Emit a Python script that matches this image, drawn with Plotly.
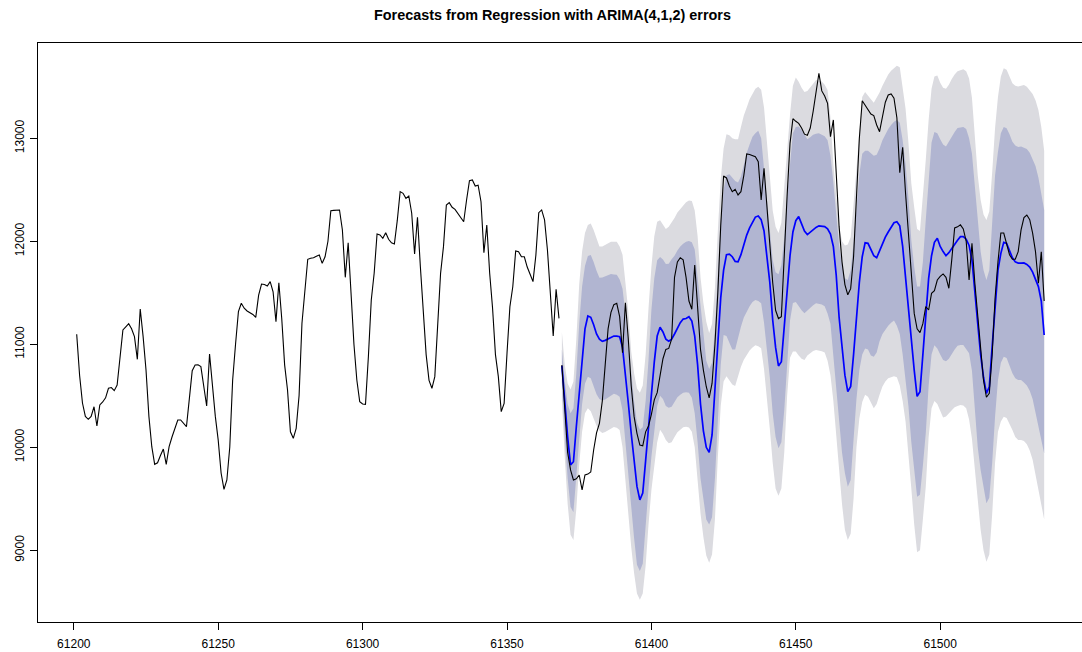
import plotly.graph_objects as go

# ---------------- data ----------------
hist_start = 61201
fc_start = 61369

hist = [
    11097, 10700, 10430, 10300, 10272, 10300, 10394, 10207, 10411, 10440,
    10480, 10573, 10580, 10550, 10605, 10850, 11139, 11170, 11200, 11150,
    11074, 10854, 11343, 11074, 10750, 10300, 10006, 9835, 9850, 9920,
    9983, 9835, 10006, 10100, 10180, 10265, 10265, 10230, 10200, 10470,
    10744, 10799, 10800, 10783, 10600, 10401, 10906, 10600, 10300, 10070,
    9750, 9592, 9683, 10000, 10653, 11000, 11317, 11398, 11350, 11323,
    11307, 11290, 11262, 11478, 11585, 11580, 11566, 11608, 11510, 11220,
    11598, 11250, 10800, 10556, 10151, 10087, 10184, 10500, 11204, 11500,
    11825, 11835, 11840, 11855, 11867, 11786, 11850, 12000, 12297, 12300,
    12305, 12304, 12110, 11650, 11986, 11450, 11000, 10653, 10443, 10420,
    10417, 10880, 11430, 11689, 12071, 12061, 12029, 12083, 12020, 11986,
    11974, 12200, 12482, 12466, 12417, 12440, 12272, 11877, 12233, 11753,
    11300, 10900, 10650, 10573, 10686, 11171, 11689, 11948, 12352, 12375,
    12330, 12310, 12270, 12240, 12190, 12401, 12588, 12595, 12537, 12545,
    12384, 11889, 12158, 11689, 11350, 10900, 10686, 10346, 10427, 10913,
    11365, 11559, 11906, 11899, 11850, 11850, 11750, 11680, 11608, 11867,
    12278, 12304, 12207, 11916, 11495, 11081, 11534, 11252,
]

actual = [
    10799, 10330, 9950, 9780, 9683, 9695, 9731, 9586, 9731, 9740,
    9760, 9974, 10140, 10233, 10450, 10800, 11150, 11310, 11385, 11398,
    11268, 10918, 11404, 11050, 10600, 10300, 10136, 10022, 10015, 10150,
    10207, 10320, 10460, 10530, 10710, 10860, 10950, 10960, 11050, 11650,
    11800, 11840, 11820, 11650, 11420, 11340, 11770, 11333, 10950, 10750,
    10588, 10480, 10620, 11000,
    11500, 12150, 12634, 12615, 12537, 12482, 12505, 12450,
    12482, 12640, 12848, 12842, 12835, 12821, 12773, 12401, 12709, 12330,
    11990, 11600, 11330, 11250, 11268, 11900, 12450, 12951, 13190, 13165,
    13145, 13100, 13040, 13030, 13100, 13260, 13453, 13631, 13460, 13411,
    13340, 13016, 13178, 12700, 12142, 11800, 11580, 11480, 11540, 11850,
    12400, 13000, 13365, 13320, 13275, 13236, 13220, 13129, 13064, 13194,
    13350, 13420, 13430, 13390, 13200, 12666, 12913, 12466, 12050, 11650,
    11300, 11150, 11113, 11200, 11365, 11333, 11495, 11520, 11624,
    11660, 11683, 11650, 11544, 11820, 12130, 12140, 12160, 12120, 12000,
    11624, 11980, 11592, 11280, 10950, 10650, 10486, 10524, 10900, 11450,
    11800, 12080, 12080, 11960, 11870, 11825, 11825, 11900, 12110, 12230,
    12255, 12210, 12080, 11900, 11592, 11899, 11420,
]

fc_mean = [
    10790, 10420, 10100, 9830, 9860, 10200, 10530, 10880, 11150, 11275,
    11262, 11190, 11100, 11050, 11028, 11038, 11050, 11065, 11080, 11080,
    11074, 10970, 10730, 10430, 10136, 9850, 9620, 9490, 9555, 9870,
    10200, 10524, 10830, 11080, 11165, 11120, 11050, 11030, 11050, 11100,
    11160, 11210, 11245,
    11250, 11268, 11225, 11080, 10800, 10420, 10160, 10000, 9950, 10120,
    10600, 11000, 11450, 11720, 11870, 11875, 11850, 11805, 11800, 11870,
    11975, 12060, 12130, 12180,
    12235, 12246, 12210, 12100, 11850, 11600, 11236, 10970, 10790, 10830,
    11171, 11560, 11860, 12090, 12200, 12240, 12160, 12100, 12065, 12090,
    12115, 12135, 12150, 12148,
    12142, 12120, 12070, 11950, 11670, 11260, 10960, 10700, 10540, 10590,
    10900, 11260, 11600, 11850, 11985, 11980, 11920, 11860, 11840, 11910,
    11980, 12040, 12090, 12142, 12180,
    12190, 12150, 11950, 11640, 11310, 11020, 10750, 10495, 10540, 10900,
    11250, 11640, 11860, 11990, 12030, 11950, 11900, 11860, 11890, 11930,
    11980, 12010, 12045, 12045, 12020, 11960, 11818, 11540, 11200, 10900,
    10680, 10524, 10588, 10980, 11400, 11720, 11883, 11990, 11980, 11910,
    11840, 11800, 11788, 11788, 11790, 11775, 11750, 11700, 11620, 11560,
    11420, 11090,
]

hi95 = [
    11120, 10800, 10620, 10560, 10640, 11050, 11580, 11900, 12080, 12158,
    12172, 12110, 12030, 11950, 11950, 11966, 11980, 11995, 11996, 11996,
    11950, 11870, 11600, 11320, 10930, 10720, 10570, 10530, 10600, 10900,
    11350, 11753, 12050, 12190, 12205, 12165, 12120, 12140, 12180, 12225,
    12280, 12315, 12350, 12380, 12395, 12390, 12300, 12050, 11650, 11400,
    11220, 11110, 11200, 11550, 12100, 12600, 12900, 13040, 13030, 13000,
    12990, 12990, 13110, 13220, 13300, 13380, 13430, 13480, 13500, 13470,
    13300, 12950, 12560, 12300, 12140, 12080, 12180, 12500, 12880, 13230,
    13510, 13590, 13550, 13490, 13450, 13460, 13500, 13530, 13566, 13560,
    13552, 13520, 13469, 13200, 12750, 12440, 12150, 12000, 11960, 11970,
    12040, 12360, 12720, 13080, 13400, 13450, 13420, 13380, 13345, 13390,
    13445, 13510, 13570, 13620, 13655, 13680, 13705, 13690, 13500, 13290,
    12960, 12560, 12330, 12120, 12100, 12420, 12789, 13180, 13480, 13600,
    13610, 13540, 13490, 13480, 13520, 13575, 13620, 13650, 13660, 13670,
    13650, 13580, 13390, 13030, 12640, 12400, 12260, 12207, 12290, 12670,
    13100, 13400, 13600, 13680, 13665, 13600, 13534, 13510, 13503, 13510,
    13518, 13500, 13470, 13430, 13370, 13275, 13110, 12880,
]

hi80 = [
    10950, 10640, 10420, 10330, 10380, 10720, 11200, 11560, 11760, 11857,
    11866, 11800, 11715, 11645, 11648, 11658, 11670, 11682, 11678, 11675,
    11630, 11540, 11300, 11010, 10686, 10450, 10240, 10170, 10195, 10450,
    10850, 11333, 11640, 11815, 11848, 11822, 11780, 11782, 11825, 11860,
    11910, 11950, 11975, 11995, 12004, 11990, 11920, 11650, 11320, 11060,
    10840, 10760, 10820, 11150, 11700, 12200, 12500, 12640, 12650, 12620,
    12585, 12570, 12630, 12740, 12860, 12940, 13016, 13050, 13074, 13000,
    12700, 12380, 12050, 11818, 11700, 11680, 11770, 12040, 12440, 12790,
    13050, 13110, 13115, 13080, 13030, 12990, 13010, 13035, 13045, 13048,
    13035, 13020, 12980, 12830, 12570, 12270, 11960, 11780, 11640, 11624,
    11720, 11990, 12320, 12650, 12850, 12880, 12880, 12850, 12830, 12840,
    12900, 12980, 13040, 13090, 13130, 13160, 13178, 13150, 12980, 12750,
    12420, 12010, 11750, 11560, 11560, 11800, 12207, 12620, 12960, 13060,
    13050, 12990, 12940, 12920, 12970, 13020, 13060, 13100, 13105, 13110,
    13090, 13000, 12850, 12530, 12150, 11900, 11720, 11624, 11720, 12140,
    12640, 12870, 13050, 13110, 13097, 13040, 12967, 12930, 12915, 12920,
    12910, 12895, 12860, 12800, 12730, 12620, 12466, 12304,
]

lo80 = [
    10630, 10100, 9700, 9420, 9370, 9700, 10080, 10420, 10620, 10686,
    10670, 10600, 10515, 10470, 10455, 10465, 10480, 10500, 10520, 10510,
    10490, 10360, 10100, 9780, 9423, 9120, 8860, 8800, 8870, 9200,
    9600, 9909, 10180, 10400, 10500, 10470, 10400, 10385, 10393, 10440,
    10485, 10510, 10530, 10535, 10530, 10480, 10330, 10050, 9700, 9480,
    9300, 9250, 9320, 9700, 10250, 10800, 11090, 11080, 11020, 10950,
    10950, 11050, 11171, 11260, 11320, 11370, 11410, 11430, 11420, 11398,
    11210, 10950, 10680, 10330, 10100, 9990, 10050, 10360, 10800, 11230,
    11400, 11410, 11365, 11330, 11301, 11330, 11355, 11380, 11398, 11393,
    11387, 11370, 11300, 11200, 10950, 10560, 10280, 9950, 9750, 9618,
    9683, 10050, 10470, 10750, 10900, 10960, 10950, 10890, 10880, 10920,
    11030, 11100, 11140, 11180, 11210, 11230, 11180, 11100, 10900, 10660,
    10400, 10050, 9760, 9520, 9540, 9820, 10136, 10600, 10900, 10990,
    10960, 10900, 10848, 10835, 10860, 10900, 10950, 10985, 10993, 10993,
    10960, 10913, 10740, 10380, 10000, 9780, 9600, 9456, 9510, 9850,
    10300, 10650, 10820, 10880, 10866, 10800, 10718, 10670, 10653, 10653,
    10630, 10600, 10550, 10470, 10360, 10220, 10080, 9940,
]

lo95 = [
    10460, 9900, 9450, 9150, 9100, 9400, 9830, 10150, 10330, 10379,
    10350, 10280, 10210, 10160, 10140, 10148, 10160, 10180, 10198, 10190,
    10168, 10000, 9700, 9380, 9035, 8780, 8580, 8520, 8580, 8850,
    9250, 9586, 9830, 10050, 10170, 10130, 10070, 10040, 10050, 10100,
    10145, 10170, 10195, 10200, 10192, 10150, 10000, 9700, 9360, 9130,
    8950, 8880, 8960, 9300, 9900, 10400, 10640, 10690, 10650, 10610,
    10595, 10680, 10783, 10850, 10900, 10940, 10970, 10990, 10980, 10961,
    10760, 10500, 10180, 9850, 9600, 9530, 9600, 9950, 10500, 10870,
    10930, 10930, 10890, 10860, 10848, 10890, 10915, 10935, 10945, 10940,
    10932, 10920, 10840, 10700, 10450, 10120, 9750, 9450, 9200, 9100,
    9160, 9500, 10000, 10280, 10440, 10510, 10490, 10430, 10380, 10420,
    10510, 10590, 10640, 10670, 10680, 10690, 10680, 10600, 10450, 10250,
    9900, 9600, 9250, 8980, 9000, 9300, 9618, 10100, 10380, 10450,
    10420, 10360, 10290, 10300, 10330, 10360, 10390, 10400, 10410, 10405,
    10380, 10270, 10080, 9750, 9480, 9200, 9000, 8890, 8960, 9350,
    9850, 10150, 10250, 10297, 10285, 10220, 10168, 10100, 10071, 10071,
    10060, 10030, 9970, 9880, 9760, 9610, 9450, 9300,
]

x_ticks = [61200, 61250, 61300, 61350, 61400, 61450, 61500]
y_ticks = [9000, 10000, 11000, 12000, 13000]
title = "Forecasts from Regression with ARIMA(4,1,2) errors"

for name, arr, n in [("hist", hist, 168), ("actual", actual, 168), ("fc_mean", fc_mean, 168),
                     ("hi95", hi95, 168), ("hi80", hi80, 168), ("lo80", lo80, 168), ("lo95", lo95, 168)]:
    assert len(arr) == n, (name, len(arr))

t_hist = list(range(hist_start, hist_start + len(hist)))
t_fc = list(range(fc_start, fc_start + len(fc_mean)))

# ---------------- figure ----------------
FONT = "Liberation Sans, Arial, Helvetica, sans-serif"
W, H = 1082, 652
ML, MR, MT, MB = 38, 0, 43, 30

fig = go.Figure()
fig.add_trace(go.Scatter(x=t_hist, y=hist, mode="lines",
                         line=dict(color="black", width=1.1), hoverinfo="skip"))
fig.add_trace(go.Scatter(x=t_fc + t_fc[::-1], y=hi95 + lo95[::-1], mode="lines",
                         fill="toself", fillcolor="#DBDBE0", line=dict(width=0),
                         hoverinfo="skip"))
fig.add_trace(go.Scatter(x=t_fc + t_fc[::-1], y=hi80 + lo80[::-1], mode="lines",
                         fill="toself", fillcolor="#B1B5D1", line=dict(width=0),
                         hoverinfo="skip"))
fig.add_trace(go.Scatter(x=t_fc, y=fc_mean, mode="lines",
                         line=dict(color="#0000FF", width=1.7), hoverinfo="skip"))
fig.add_trace(go.Scatter(x=t_fc, y=actual, mode="lines",
                         line=dict(color="black", width=1.1), hoverinfo="skip"))

plot_w = W - ML - MR
title_x = (552 - ML) / plot_w
title_y = 1 + (MT - 15) / (H - MT - MB)

fig.update_layout(
    width=W, height=H,
    margin=dict(l=ML, r=MR, t=MT, b=MB, pad=0),
    paper_bgcolor="white", plot_bgcolor="white",
    showlegend=False,
    font=dict(family=FONT, size=12, color="black"),
    xaxis=dict(range=[61187.6, 61549.1], tickvals=x_ticks,
               ticktext=[str(v) for v in x_ticks],
               showgrid=False, zeroline=False, showline=True, mirror=True,
               linecolor="black", linewidth=1, ticks="outside", ticklen=7,
               tickcolor="black", tickwidth=1, tickfont=dict(size=12),
               ticklabelstandoff=4),
    yaxis=dict(range=[8304, 13925], tickvals=y_ticks,
               ticktext=[str(v) for v in y_ticks], tickangle=-90,
               showgrid=False, zeroline=False, showline=True, mirror=False,
               linecolor="black", linewidth=1, ticks="outside", ticklen=7,
               tickcolor="black", tickwidth=1, tickfont=dict(size=12),
               ticklabelstandoff=1),
    annotations=[dict(text="<b>" + title + "</b>", x=title_x, y=title_y,
                      xref="paper", yref="paper", xanchor="center", yanchor="middle",
                      showarrow=False, font=dict(size=14.4, family=FONT, color="black"))],
)

fig.write_html("out.html")
